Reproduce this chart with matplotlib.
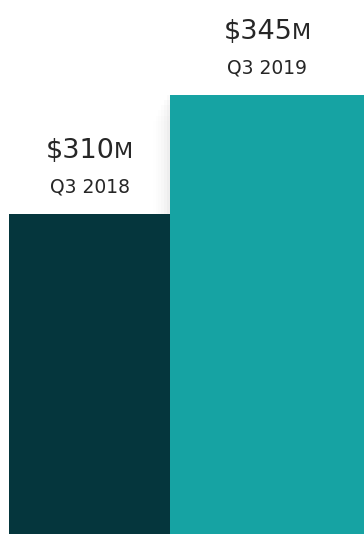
import matplotlib.pyplot as plt
from matplotlib.transforms import offset_copy

# quarterly revenue, $M
quarters = ["Q3 2018", "Q3 2019"]
revenue = [310, 345]
colors = ["#05363d", "#16a3a3"]
widths = [1.0, 1.3]

fig = plt.figure(figsize=(3.64, 5.34), dpi=100)
ax = fig.add_axes([0, 0, 1, 1])

x = [0, 1]
xmax = 2.205
# soft shadow to the left of the taller bar
for i, a in enumerate([0.02, 0.015, 0.012, 0.009, 0.006, 0.004]):
    ax.bar(x[1] - 0.018 * (i + 1), revenue[1] - 1.5 * i, width=widths[1], bottom=0,
           align="edge", color="black", alpha=a, linewidth=0, zorder=1)
ax.bar(x, revenue, width=widths, align="edge", color=colors, linewidth=0, zorder=2)

ax.set_xlim(-0.056, xmax)
ax.set_ylim(215.9, 373)
ax.axis("off")

fig.canvas.draw()
renderer = fig.canvas.get_renderer()
txt_color = "#262626"
gap = -1

for xi, v, q in zip(x, revenue, quarters):
    cx = xi + 0.5 if xi == 0 else xi + 0.5 * (xmax - xi)
    # big number plus small-caps "M"
    big = ax.text(cx, v, "$%d" % v, fontsize=19.5, color=txt_color,
                  ha="left", va="baseline", zorder=3)
    small = ax.text(cx, v, "M", fontsize=16, color=txt_color,
                    ha="left", va="baseline", zorder=3)
    wb = big.get_window_extent(renderer).width
    ws = small.get_window_extent(renderer).width
    total = wb + ws + gap
    big.set_transform(offset_copy(ax.transData, fig=fig, x=-total / 2, y=56, units="dots"))
    small.set_transform(offset_copy(ax.transData, fig=fig, x=-total / 2 + wb + gap, y=56, units="dots"))
    ax.text(cx, v, q, fontsize=13.5, color=txt_color, ha="center", va="baseline",
            transform=offset_copy(ax.transData, fig=fig, x=0, y=22, units="dots"), zorder=3)

fig.savefig("out.png", dpi=100)
